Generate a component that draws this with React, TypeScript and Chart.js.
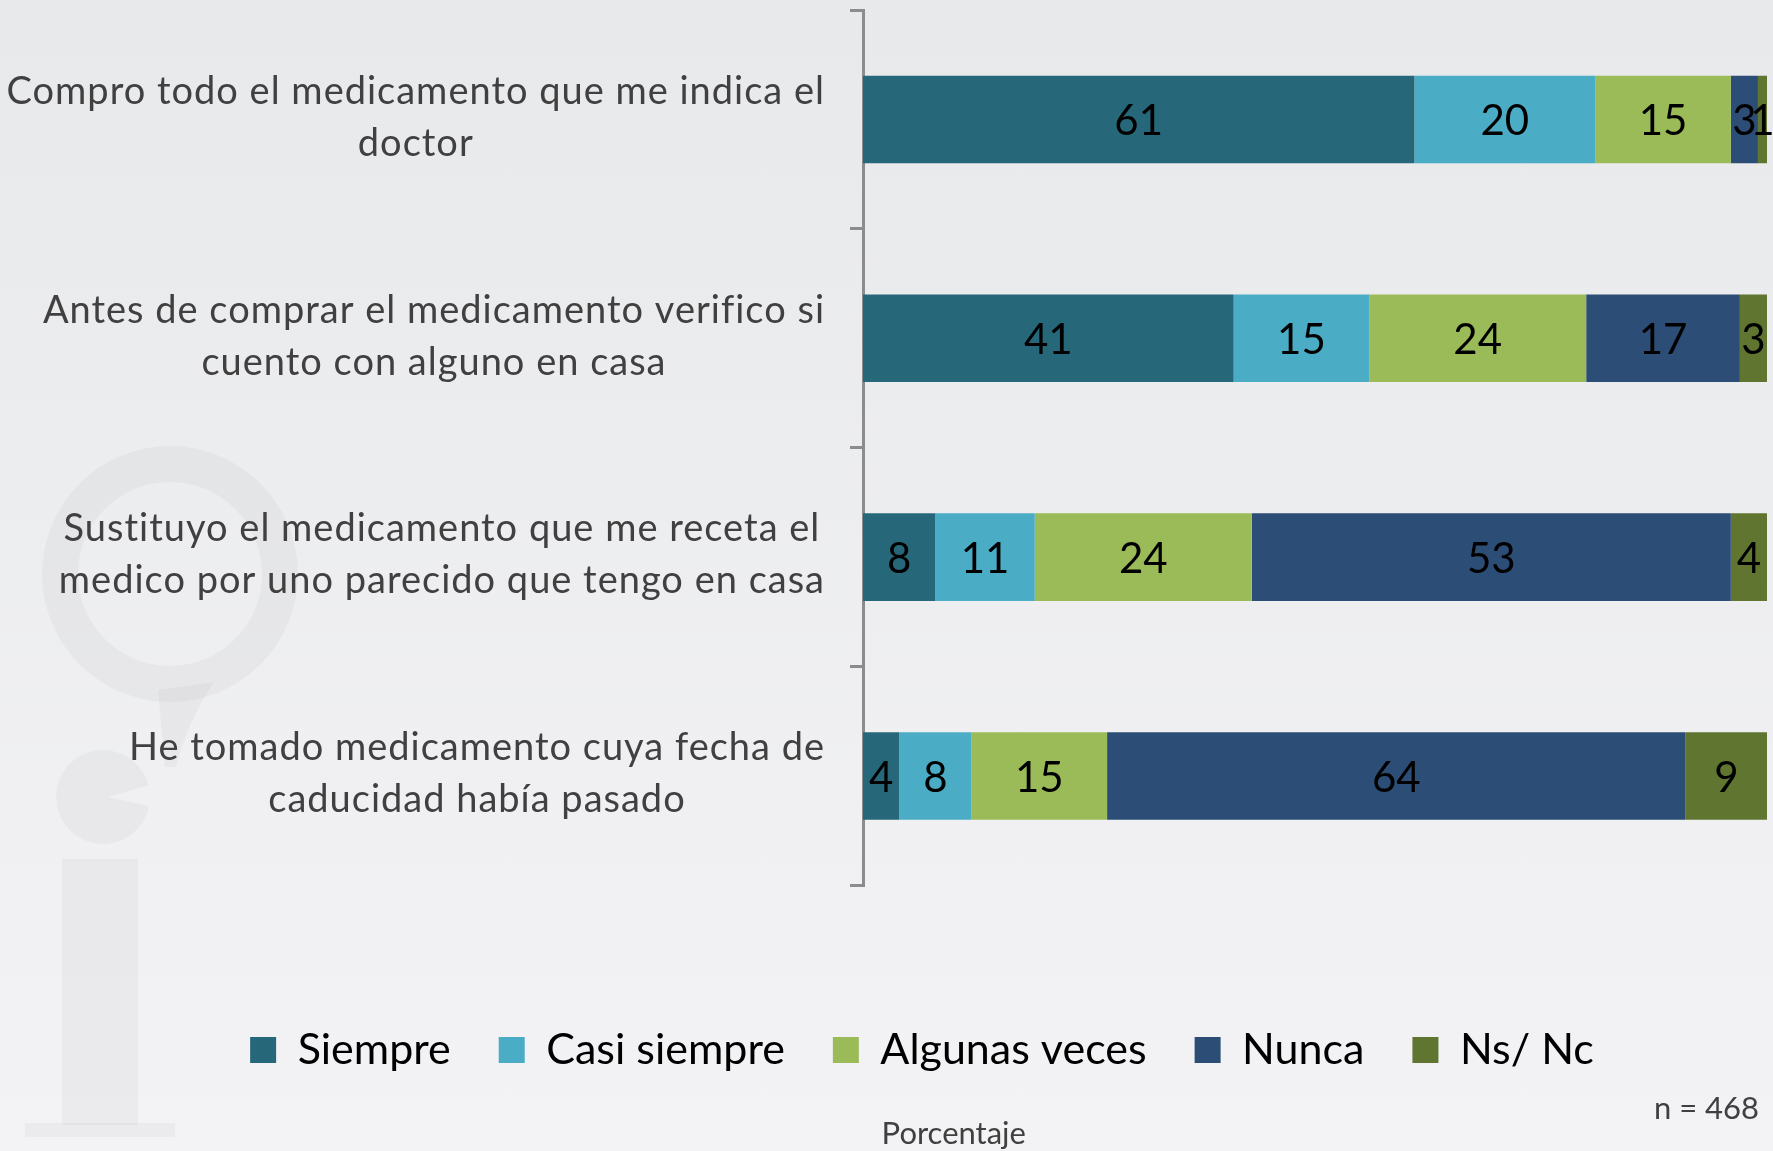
import React, { useEffect, useRef } from 'react';
import { Chart, registerables } from 'chart.js';

Chart.register(...registerables);

const categories: string[][] = [
  ['Compro todo el medicamento que me indica el', 'doctor'],
  ['Antes de comprar el medicamento verifico si', 'cuento con alguno en casa'],
  ['Sustituyo el medicamento que me receta el', 'medico por uno parecido que tengo en casa'],
  ['He tomado medicamento cuya fecha de', 'caducidad había pasado'],
];
const seriesNames = ['Siempre', 'Casi siempre', 'Algunas veces', 'Nunca', 'Ns/ Nc'];
const siempre = [61, 41, 8, 4];
const casiSiempre = [20, 15, 11, 8];
const algunasVeces = [15, 24, 24, 15];
const nunca = [3, 17, 53, 64];
const nsNc = [1, 3, 4, 9];
const seriesColors = ['#26687a', '#4bacc6', '#9bbb59', '#2c4d75', '#5f7530'];
const xAxisTitle = 'Porcentaje';
const sampleNote = 'n = 468';

const FONT = 'Lato, "Open Sans", sans-serif';

const watermarkPlugin = {
  id: 'watermark',
  beforeDraw(chart: any) {
    const ctx = chart.ctx;
    ctx.save();
    ctx.fillStyle = 'rgba(0,0,0,0.03)';
    ctx.strokeStyle = 'rgba(0,0,0,0.03)';
    // ring
    ctx.lineWidth = 36;
    ctx.beginPath();
    ctx.arc(170, 574, 110, 0, Math.PI * 2);
    ctx.stroke();
    // tail
    ctx.beginPath();
    ctx.moveTo(158, 690);
    ctx.lineTo(214, 682);
    ctx.quadraticCurveTo(186, 725, 176, 767);
    ctx.lineTo(165, 767);
    ctx.closePath();
    ctx.fill();
    // dot with notch
    ctx.beginPath();
    ctx.moveTo(108, 797);
    ctx.arc(103, 797, 47, 0.2, Math.PI * 2 - 0.25);
    ctx.closePath();
    ctx.fill();
    // stem
    ctx.fillRect(62, 859, 76, 266);
    ctx.fillRect(25, 1123, 150, 14);
    ctx.restore();
  },
};

const yLabelPlugin = {
  id: 'yLabels',
  afterDraw(chart: any) {
    const ctx = chart.ctx;
    const ys = chart.scales.y;
    const labels = chart.data.labels as string[][];
    const rightEdge = 825;
    ctx.save();
    ctx.font = `38px ${FONT}`;
    (ctx as any).letterSpacing = '1px';
    ctx.fillStyle = '#404040';
    ctx.textAlign = 'center';
    ctx.textBaseline = 'middle';
    labels.forEach((lines, i) => {
      const yc = ys.getPixelForValue(i);
      const w = Math.max(...lines.map((l) => ctx.measureText(l).width));
      const cx = rightEdge - w / 2;
      lines.forEach((l, j) => {
        ctx.fillText(l, cx, yc - 2 + (j - (lines.length - 1) / 2) * 52);
      });
    });
    ctx.restore();
  },
};

const dataLabelPlugin = {
  id: 'dataLabels',
  afterDatasetsDraw(chart: any) {
    const ctx = chart.ctx;
    ctx.save();
    ctx.font = `42px ${FONT}`;
    ctx.fillStyle = '#000000';
    ctx.textAlign = 'center';
    ctx.textBaseline = 'middle';
    chart.data.datasets.forEach((ds: any, di: number) => {
      const meta = chart.getDatasetMeta(di);
      meta.data.forEach((el: any, i: number) => {
        const { x, base, y } = el.getProps(['x', 'base', 'y'], true);
        ctx.fillText(String(ds.data[i]), (x + base) / 2, y + 2);
      });
    });
    ctx.restore();
  },
};

export default function App() {
  const canvasRef = useRef<HTMLCanvasElement | null>(null);

  useEffect(() => {
    if (!canvasRef.current) return;
    const seriesValues = [siempre, casiSiempre, algunasVeces, nunca, nsNc];
    const chart = new Chart(canvasRef.current, {
      type: 'bar',
      data: {
        labels: categories,
        datasets: seriesNames.map((name, i) => ({
          label: name,
          data: seriesValues[i],
          backgroundColor: seriesColors[i],
          borderWidth: 0,
          categoryPercentage: 0.8,
          barPercentage: 0.5,
        })),
      },
      options: {
        indexAxis: 'y',
        animation: false,
        responsive: true,
        maintainAspectRatio: false,
        layout: { padding: { top: 10, left: 77, right: 6, bottom: 0 } },
        scales: {
          x: {
            stacked: true,
            min: 0,
            max: 100,
            display: true,
            ticks: { display: false },
            grid: { display: false, drawTicks: false },
            border: { display: false },
            afterFit: (s: any) => {
              s.height = 95;
            },
          },
          y: {
            stacked: true,
            ticks: { display: false },
            grid: {
              display: true,
              offset: true,
              drawOnChartArea: false,
              drawTicks: true,
              tickLength: 13,
              color: '#8c8c8c',
              lineWidth: 3,
            },
            border: { display: true, color: '#8c8c8c', width: 3 },
            afterFit: (s: any) => {
              s.width = 863 - 77;
            },
          },
        },
        plugins: {
          legend: {
            display: true,
            position: 'bottom',
            labels: {
              font: { family: FONT, size: 43 },
              color: '#000000',
              boxWidth: 26,
              boxHeight: 26,
              padding: 48,
            },
          },
          subtitle: {
            display: true,
            position: 'bottom',
            align: 'end',
            text: sampleNote + ' ',
            color: '#404040',
            font: { family: FONT, size: 31, lineHeight: 0.8, weight: 'normal' },
            padding: { top: 15, bottom: 0 },
          },
          title: {
            display: true,
            position: 'bottom',
            align: 'center',
            text: '        ' + xAxisTitle,
            color: '#404040',
            font: { family: FONT, size: 31, lineHeight: 0.8, weight: 'normal' },
            padding: { top: 0, bottom: 5 },
          },
          tooltip: { enabled: false },
        },
      },
      plugins: [watermarkPlugin, yLabelPlugin, dataLabelPlugin],
    } as any);
    return () => chart.destroy();
  }, []);

  return (
    <div
      style={{
        position: 'fixed',
        left: 0,
        top: 0,
        width: 1773,
        height: 1151,
        background: 'linear-gradient(180deg, #e8e9eb 0%, #f3f3f5 100%)',
      }}
    >
      <canvas ref={canvasRef} />
    </div>
  );
}
